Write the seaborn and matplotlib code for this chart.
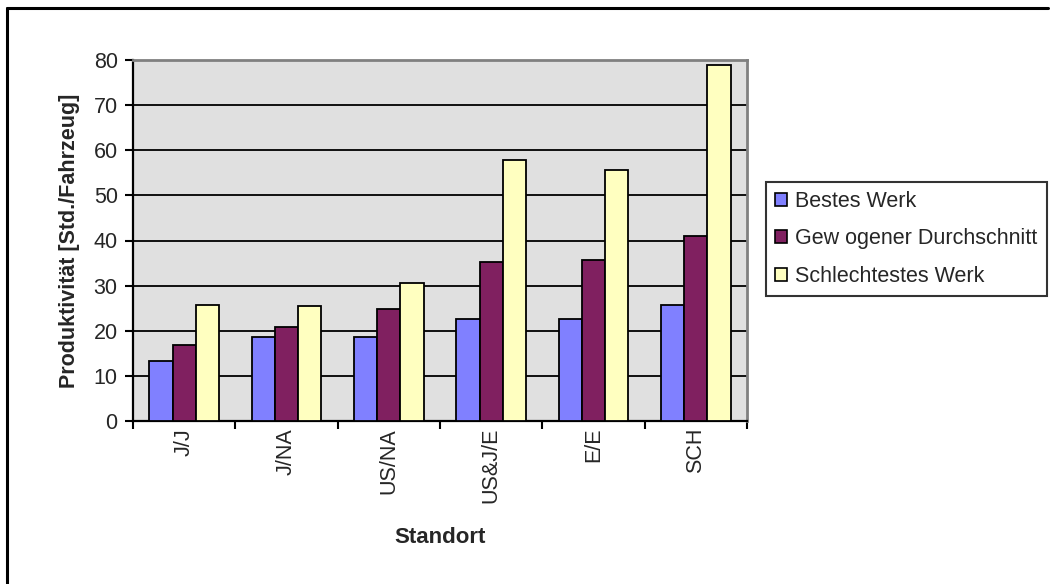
import matplotlib
matplotlib.use("Agg")
import matplotlib.pyplot as plt
from matplotlib.patches import Patch
from matplotlib.lines import Line2D
from matplotlib.ticker import FixedLocator, NullFormatter
import seaborn as sns
import pandas as pd

# Data
standorte = ["J/J", "J/NA", "US/NA", "US&J/E", "E/E", "SCH"]
serien = ["Bestes Werk", "Gew ogener Durchschnitt", "Schlechtestes Werk"]
bestes_werk = [13.3, 18.6, 18.6, 22.7, 22.7, 25.8]
durchschnitt = [16.9, 20.9, 24.9, 35.2, 35.6, 40.9]
schlechtestes_werk = [25.8, 25.4, 30.6, 57.9, 55.7, 78.9]
y_ticks = [0, 10, 20, 30, 40, 50, 60, 70, 80]

farben = ["#8080FF", "#802060", "#FFFFC0"]

df = pd.DataFrame({
    "Standort": standorte * 3,
    "Serie": [serien[0]] * 6 + [serien[1]] * 6 + [serien[2]] * 6,
    "Wert": bestes_werk + durchschnitt + schlechtestes_werk,
})

sns.set_theme(style="white")
plt.rcParams["font.family"] = ["Liberation Sans", "DejaVu Sans"]

FS = 15.5
W, H = 1052, 584
fig = plt.figure(figsize=(W / 100, H / 100), dpi=100)
fig.patch.set_facecolor("white")

ax = fig.add_axes([133 / W, 1 - 421 / H, (747 - 133) / W, (421 - 60) / H])
ax.set_facecolor("#E0E0E0")

sns.barplot(
    data=df, x="Standort", y="Wert", hue="Serie", order=standorte,
    hue_order=serien, palette=farben, width=0.68, gap=0,
    edgecolor="black", linewidth=1.3, errorbar=None, saturation=1,
    legend=False, ax=ax, zorder=3,
)

ax.set_ylim(0, 80)
ax.set_xlim(-0.5, len(standorte) - 0.5)
ax.set_yticks(y_ticks)
ax.yaxis.grid(True, color="black", linewidth=1.3, zorder=1)
ax.set_axisbelow(True)

# Category ticks sit between the groups; labels are centred, rotated
ax.set_xticks(range(len(standorte)))
ax.set_xticklabels(standorte, rotation=90, fontsize=FS)
ax.tick_params(axis="x", which="major", length=0, pad=5)
ax.xaxis.set_minor_locator(FixedLocator([i - 0.5 for i in range(len(standorte) + 1)]))
ax.xaxis.set_minor_formatter(NullFormatter())
ax.tick_params(axis="x", which="minor", direction="out", length=6, width=1.5,
               color="black", bottom=True)
ax.tick_params(axis="y", direction="out", length=6, width=1.5, color="black",
               labelsize=FS, pad=5, left=True)

for side in ["left", "bottom"]:
    ax.spines[side].set_color("black")
    ax.spines[side].set_linewidth(1.6)
for side in ["top", "right"]:
    ax.spines[side].set_color("#808080")
    ax.spines[side].set_linewidth(2)

ax.set_xlabel("Standort", fontsize=16, fontweight="bold", labelpad=17)
ax.set_ylabel("Produktivität [Std./Fahrzeug]", fontsize=FS, fontweight="bold",
              labelpad=10)

handles = [Patch(facecolor=c, edgecolor="black", linewidth=1.2) for c in farben]
leg = fig.legend(
    handles, serien, loc="upper left",
    bbox_to_anchor=(766 / W, 1 - 182 / H), bbox_transform=fig.transFigure,
    fontsize=FS, frameon=True, fancybox=False, shadow=False,
    handlelength=0.55, handleheight=0.55, handletextpad=0.4,
    labelspacing=0.76, borderpad=0.42, borderaxespad=0,
)
leg.get_frame().set_edgecolor("black")
leg.get_frame().set_linewidth(1.5)

# Chart-area border
fig.add_artist(Line2D([7 / W, 1048 / W], [1 - 8 / H, 1 - 8 / H],
                      transform=fig.transFigure, color="black", linewidth=2.2))
fig.add_artist(Line2D([7 / W, 7 / W], [0, 1 - 8 / H],
                      transform=fig.transFigure, color="black", linewidth=2.2))

fig.savefig("out.png", dpi=100)
